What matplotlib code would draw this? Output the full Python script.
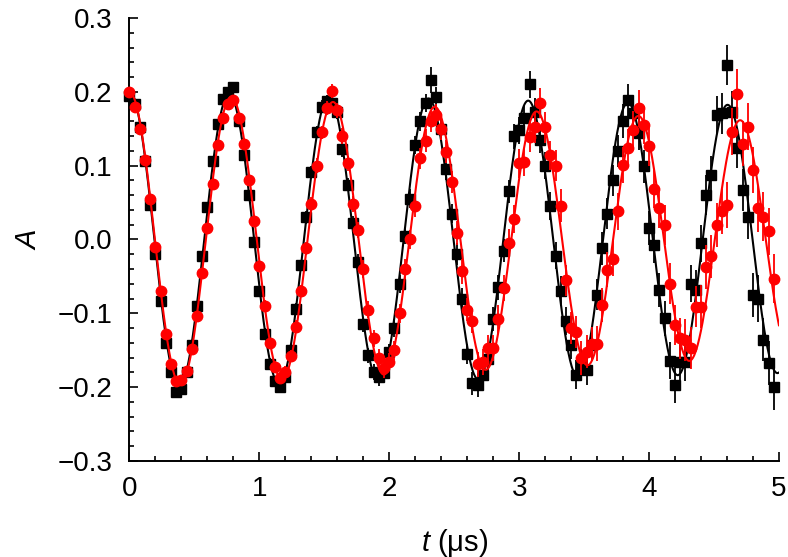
import numpy as np
import matplotlib
matplotlib.use("Agg")
import matplotlib.pyplot as plt
from matplotlib.ticker import MultipleLocator

plt.rcParams['font.family'] = ['Liberation Sans', 'DejaVu Sans']
plt.rcParams['mathtext.fontset'] = 'custom'
plt.rcParams['mathtext.it'] = 'Liberation Sans:italic'
plt.rcParams['mathtext.rm'] = 'Liberation Sans'

# sampling grid (µs)
t_step = 0.04
n_points = 125
t_us = np.arange(n_points) * t_step

black_A = [
    0.195, 0.183, 0.152, 0.106, 0.047, -0.019, -0.083, -0.140, -0.180, -0.207,
    -0.203, -0.180, -0.143, -0.090, -0.022, 0.044, 0.106, 0.156, 0.190, 0.200,
    0.206, 0.160, 0.114, 0.060, -0.004, -0.070, -0.128, -0.168, -0.192, -0.200,
    -0.186, -0.150, -0.094, -0.035, 0.030, 0.092, 0.146, 0.180, 0.188, 0.185,
    0.172, 0.122, 0.074, 0.022, -0.030, -0.115, -0.157, -0.179, -0.186, -0.181,
    -0.152, -0.120, -0.060, 0.005, 0.055, 0.128, 0.160, 0.185, 0.216, 0.193,
    0.150, 0.095, 0.035, -0.020, -0.080, -0.155, -0.195, -0.197, -0.183, -0.162,
    -0.108, -0.065, -0.015, 0.065, 0.140, 0.148, 0.165, 0.210, 0.172, 0.135,
    0.100, 0.045, -0.022, -0.070, -0.110, -0.143, -0.183, -0.170, -0.177, -0.143,
    -0.075, -0.012, 0.035, 0.080, 0.120, 0.160, 0.189, 0.171, 0.144, 0.099,
    0.015, -0.008, -0.068, -0.107, -0.164, -0.197, -0.166, -0.166, -0.060, -0.068,
    -0.005, 0.060, 0.087, 0.169, 0.171, 0.236, 0.173, 0.124, 0.067, 0.030,
    -0.075, -0.080, -0.136, -0.167, -0.200,
]
black_err = [
    0.004, 0.005, 0.004, 0.005, 0.005, 0.004, 0.005, 0.006, 0.005, 0.006,
    0.005, 0.005, 0.006, 0.005, 0.006, 0.005, 0.006, 0.006, 0.007, 0.006,
    0.006, 0.007, 0.006, 0.007, 0.007, 0.006, 0.008, 0.007, 0.007, 0.008,
    0.007, 0.008, 0.008, 0.007, 0.009, 0.008, 0.008, 0.009, 0.008, 0.009,
    0.009, 0.010, 0.009, 0.010, 0.011, 0.010, 0.010, 0.011, 0.012, 0.011,
    0.011, 0.012, 0.012, 0.011, 0.013, 0.012, 0.013, 0.012, 0.017, 0.013,
    0.013, 0.014, 0.013, 0.015, 0.014, 0.014, 0.015, 0.016, 0.015, 0.015,
    0.016, 0.017, 0.016, 0.016, 0.017, 0.018, 0.017, 0.018, 0.019, 0.018,
    0.018, 0.019, 0.018, 0.020, 0.019, 0.019, 0.020, 0.021, 0.020, 0.020,
    0.021, 0.022, 0.021, 0.021, 0.022, 0.023, 0.022, 0.024, 0.023, 0.022,
    0.023, 0.024, 0.023, 0.024, 0.025, 0.024, 0.025, 0.026, 0.025, 0.026,
    0.025, 0.027, 0.026, 0.026, 0.028, 0.027, 0.028, 0.027, 0.028, 0.029,
    0.030, 0.032, 0.029, 0.030, 0.031,
]

red_A = [
    0.200, 0.180, 0.150, 0.108, 0.055, -0.010, -0.070, -0.128, -0.168, -0.192,
    -0.190, -0.178, -0.148, -0.104, -0.045, 0.016, 0.075, 0.128, 0.165, 0.183,
    0.189, 0.165, 0.130, 0.080, 0.025, -0.036, -0.090, -0.140, -0.173, -0.188,
    -0.180, -0.158, -0.118, -0.070, -0.012, 0.048, 0.100, 0.145, 0.178, 0.201,
    0.175, 0.140, 0.103, 0.048, 0.013, -0.040, -0.095, -0.134, -0.160, -0.174,
    -0.166, -0.150, -0.100, -0.040, 0.000, 0.045, 0.110, 0.134, 0.160, 0.169,
    0.150, 0.119, 0.078, 0.009, -0.043, -0.095, -0.110, -0.169, -0.166, -0.147,
    -0.147, -0.108, -0.066, -0.005, 0.028, 0.103, 0.105, 0.139, 0.152, 0.185,
    0.152, 0.114, 0.100, 0.046, -0.055, -0.120, -0.125, -0.161, -0.152, -0.141,
    -0.141, -0.089, -0.041, -0.026, 0.038, 0.101, 0.124, 0.148, 0.178, 0.155,
    0.126, 0.069, 0.042, 0.020, -0.060, -0.116, -0.134, -0.136, -0.147, -0.091,
    -0.091, -0.037, -0.023, 0.020, 0.038, 0.047, 0.146, 0.197, 0.130, 0.153,
    0.094, 0.042, 0.031, 0.011, -0.053,
]
red_err = [
    0.005, 0.004, 0.005, 0.005, 0.004, 0.005, 0.006, 0.005, 0.005, 0.006,
    0.005, 0.006, 0.006, 0.005, 0.006, 0.007, 0.006, 0.006, 0.007, 0.006,
    0.007, 0.006, 0.007, 0.008, 0.007, 0.007, 0.008, 0.007, 0.008, 0.008,
    0.009, 0.008, 0.009, 0.008, 0.009, 0.009, 0.010, 0.009, 0.010, 0.010,
    0.010, 0.011, 0.010, 0.011, 0.011, 0.012, 0.011, 0.012, 0.012, 0.013,
    0.012, 0.013, 0.013, 0.014, 0.013, 0.014, 0.014, 0.015, 0.014, 0.015,
    0.015, 0.016, 0.015, 0.016, 0.017, 0.016, 0.017, 0.017, 0.018, 0.017,
    0.018, 0.019, 0.018, 0.019, 0.019, 0.020, 0.019, 0.020, 0.021, 0.020,
    0.021, 0.020, 0.021, 0.022, 0.021, 0.022, 0.022, 0.023, 0.022, 0.023,
    0.024, 0.023, 0.024, 0.024, 0.025, 0.024, 0.025, 0.026, 0.025, 0.026,
    0.026, 0.027, 0.026, 0.027, 0.028, 0.027, 0.028, 0.028, 0.029, 0.028,
    0.029, 0.030, 0.029, 0.030, 0.030, 0.031, 0.032, 0.034, 0.031, 0.032,
    0.031, 0.032, 0.033, 0.032, 0.033,
]

# damped-cosine fit parameters
black_fit_amp, black_fit_freq, black_fit_tau = 0.200, 1.303, 50.0
red_fit_amp, red_fit_freq, red_fit_tau = 0.200, 1.276, 22.0

x_ticks = [0, 1, 2, 3, 4, 5]
x_ticklabels = ['0', '1', '2', '3', '4', '5']
y_ticks = [-0.3, -0.2, -0.1, 0.0, 0.1, 0.2, 0.3]
y_ticklabels = ['\u22120.3', '\u22120.2', '\u22120.1', '0.0', '0.1', '0.2', '0.3']

fig = plt.figure(figsize=(7.88, 5.57), dpi=100)
ax = fig.add_axes([0.1643, 0.1724, 0.8242, 0.7953])

t_fit = np.linspace(0, 5, 800)
black_curve = black_fit_amp * np.exp(-t_fit / black_fit_tau) * np.cos(2 * np.pi * black_fit_freq * t_fit)
red_curve = red_fit_amp * np.exp(-t_fit / red_fit_tau) * np.cos(2 * np.pi * red_fit_freq * t_fit)

ax.errorbar(t_us, black_A, yerr=black_err, fmt='s', color='black', ms=7.0,
            elinewidth=1.3, capsize=0, zorder=2, clip_on=False)
ax.plot(t_fit, black_curve, color='black', lw=1.5, zorder=3)
ax.errorbar(t_us, red_A, yerr=red_err, fmt='o', color='#ff0000', ms=7.5,
            elinewidth=1.3, capsize=0, zorder=4, clip_on=False)
ax.plot(t_fit, red_curve, color='#ff0000', lw=1.5, zorder=5)

ax.set_xlim(0, 5)
ax.set_ylim(-0.3, 0.3)
ax.set_xticks(x_ticks)
ax.set_xticklabels(x_ticklabels)
ax.set_yticks(y_ticks)
ax.set_yticklabels(y_ticklabels)
ax.xaxis.set_minor_locator(MultipleLocator(0.2))
ax.yaxis.set_minor_locator(MultipleLocator(0.02))

for s in ['top', 'right']:
    ax.spines[s].set_visible(False)
for s in ['left', 'bottom']:
    ax.spines[s].set_linewidth(1.4)

ax.tick_params(which='both', direction='in', width=1.2, top=False, right=False,
               labelsize=20)
ax.tick_params(which='major', length=6.5)
ax.tick_params(which='minor', length=3.5)
ax.tick_params(axis='x', which='major', pad=11)
ax.tick_params(axis='y', which='major', pad=12)

ax.set_xlabel('$t$ (\u03bcs)', fontsize=21)
ax.set_ylabel('$A$', fontsize=21)
ax.xaxis.set_label_coords(0.5, -0.148)
ax.yaxis.set_label_coords(-0.135, 0.5)

fig.savefig('out.png', dpi=100)
